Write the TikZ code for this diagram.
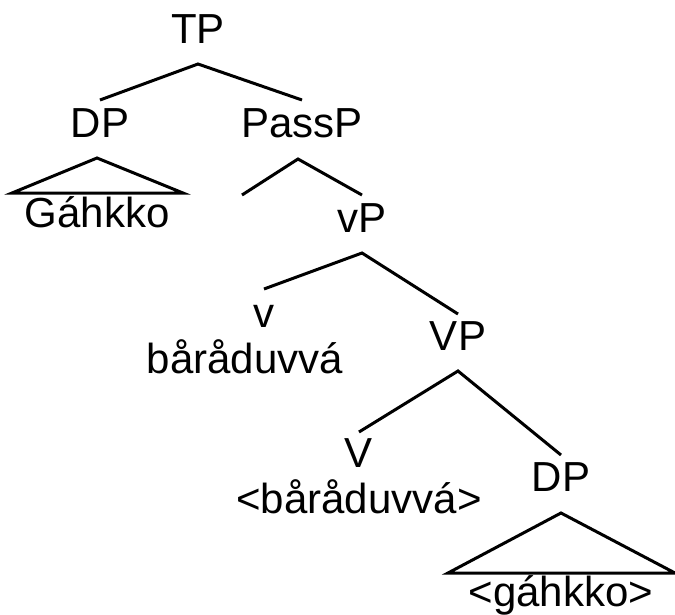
\documentclass[tikz,border=0pt]{standalone}
\usepackage{fontspec}
\setmainfont{Liberation Sans}
\begin{document}
\begin{tikzpicture}[x=1pt,y=1pt,
  lbl/.style={anchor=base, inner sep=0pt, font=\fontsize{42}{42}\selectfont},
  br/.style={line width=3pt}]
\useasboundingbox (0,0) rectangle (675,-614);
\node[lbl] (TP) at (198,-43) {TP};
\node[lbl] (DPa) at (100,-137) {DP};
\node[lbl] (PassP) at (302,-137) {PassP};
\node[lbl] (G) at (97,-227) {Gáhkko};
\coordinate (spec) at (242,-232);
\node[lbl] (vP) at (362,-232) {vP};
\node[lbl] (v) at (264,-327) {v};
\node[lbl] (bar1) at (245,-373) {båråduvvá};
\node[lbl] (VP) at (458,-350) {VP};
\node[lbl] (V) at (359,-467) {V};
\node[lbl] (bar2) at (359,-513) {<båråduvvá>};
\node[lbl] (DPb) at (561,-491) {DP};
\node[lbl] (gah) at (561,-606) {<gáhkko>};

\draw[br] ([yshift=37pt]DPa.base) -- ([yshift=-21pt]TP.base) -- ([yshift=37pt]PassP.base);
\draw[br] ([yshift=37pt]spec) -- ([xshift=-4pt,yshift=-22pt]PassP.base) -- ([yshift=37pt]vP.base);
\draw[br] ([yshift=38pt]v.base) -- ([yshift=-21pt]vP.base) -- ([yshift=36pt]VP.base);
\draw[br] ([yshift=35pt]V.base) -- ([yshift=-21pt]VP.base) -- ([yshift=36pt]DPb.base);
\draw[br] ([xshift=-3pt,yshift=-21pt]DPa.base) -- ([xshift=-85pt,yshift=34pt]G.base) -- ([xshift=86pt,yshift=34pt]G.base) -- cycle;
\draw[br] ([yshift=-22pt]DPb.base) -- ([xshift=-113pt,yshift=33pt]gah.base) -- ([xshift=114pt,yshift=33pt]gah.base) -- cycle;
\end{tikzpicture}
\end{document}
